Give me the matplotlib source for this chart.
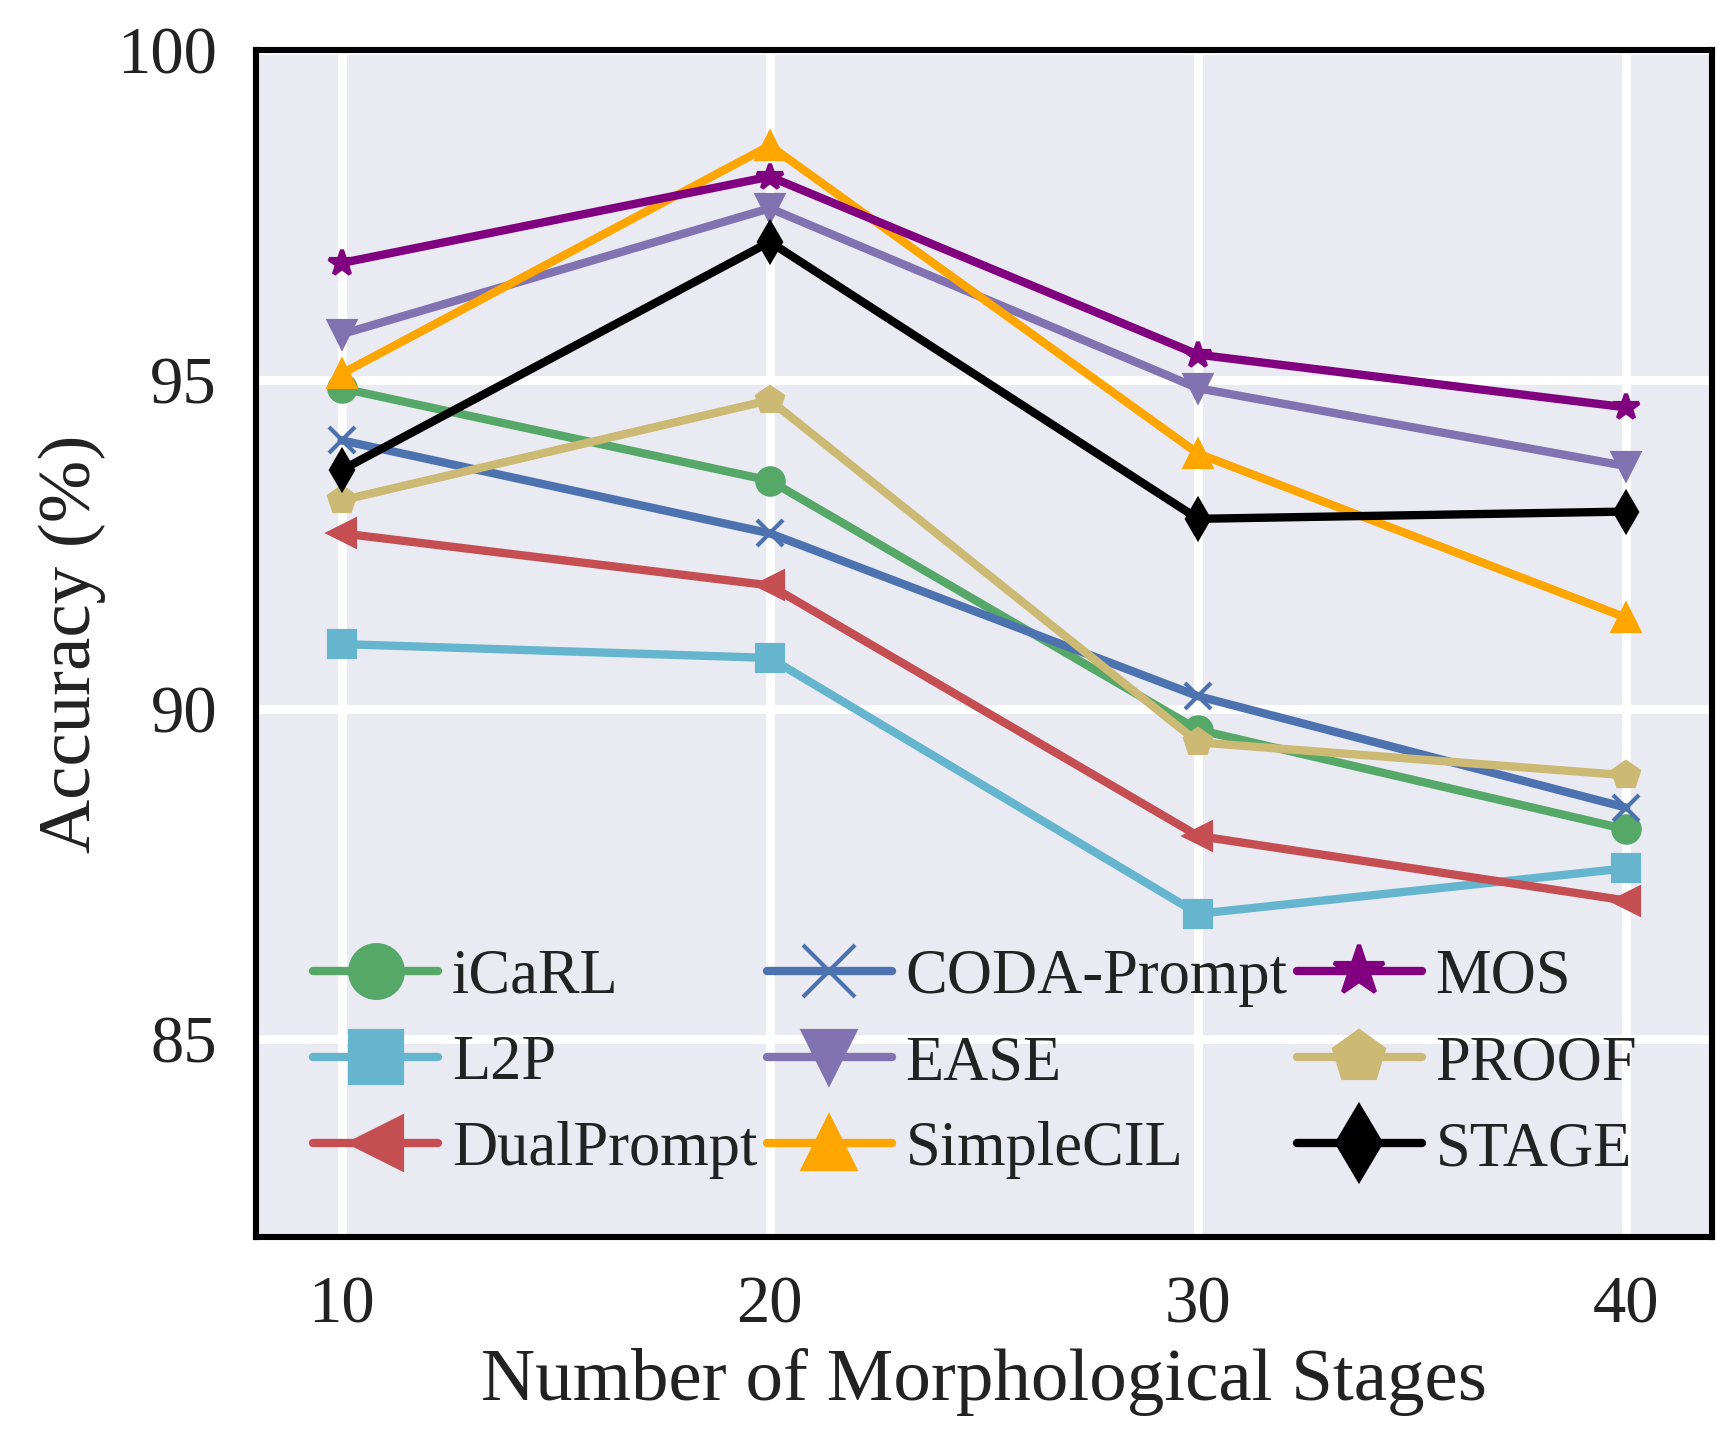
import matplotlib
matplotlib.use("Agg")
import matplotlib.pyplot as plt
import seaborn as sns

sns.set_theme(style="darkgrid")
plt.rcParams['font.family'] = ['Liberation Serif', 'DejaVu Serif']

stages = [10, 20, 30, 40]
methods = ["iCaRL", "L2P", "DualPrompt", "CODA-Prompt", "EASE", "SimpleCIL", "MOS", "PROOF", "STAGE"]
icarl = [94.87, 93.47, 89.69, 88.18]
l2p = [90.99, 90.78, 86.90, 87.59]
dualprompt = [92.67, 91.88, 88.08, 87.10]
coda = [94.08, 92.67, 90.20, 88.51]
ease = [95.69, 97.60, 94.87, 93.69]
simplecil = [95.09, 98.55, 93.88, 91.39]
mos = [96.77, 98.08, 95.38, 94.58]
proof = [93.17, 94.69, 89.50, 89.00]
stage = [93.63, 97.09, 92.89, 93.00]
values = [icarl, l2p, dualprompt, coda, ease, simplecil, mos, proof, stage]

colors = ["#55A868", "#64B5CD", "#C44E52", "#4C72B0", "#8172B2", "#FFA500", "#800080", "#CCB974", "#000000"]
markers = ["o", "s", "<", "x", "v", "^", "*", "p", "d"]

fig = plt.figure(figsize=(8.67, 7.25), dpi=200)
ax = fig.add_axes([0.1476, 0.147, 0.8397, 0.8185])

for name, vals, c, m in zip(methods, values, colors, markers):
    ax.plot(stages, vals, color=c, marker=m, markersize=9.5, linewidth=3.0,
            markeredgewidth=1.5, label=name)

ax.set_xlim(8, 42)
ax.set_ylim(82, 100)
ax.set_xticks(stages)
ax.set_yticks([85, 90, 95, 100])
ax.tick_params(axis='both', labelsize=24, colors='#222222', pad=8)
ax.grid(True, color='white', linewidth=3.2)
for sp in ax.spines.values():
    sp.set_visible(True)
    sp.set_color('black')
    sp.set_linewidth(2.2)
ax.set_xlabel("Number of Morphological Stages", fontsize=27, color='#222222', labelpad=4)
ax.set_ylabel("Accuracy (%)", fontsize=27, color='#222222')

leg = ax.legend(loc='lower center', bbox_to_anchor=(0.494, 0.017), ncol=3, fontsize=22.5,
                frameon=False, markerscale=2.0, handlelength=2.0, handletextpad=0.22,
                columnspacing=0.15, labelspacing=0.45, borderaxespad=0.2)
for t in leg.get_texts():
    t.set_color('#222222')

fig.savefig("out.png", dpi=200)
